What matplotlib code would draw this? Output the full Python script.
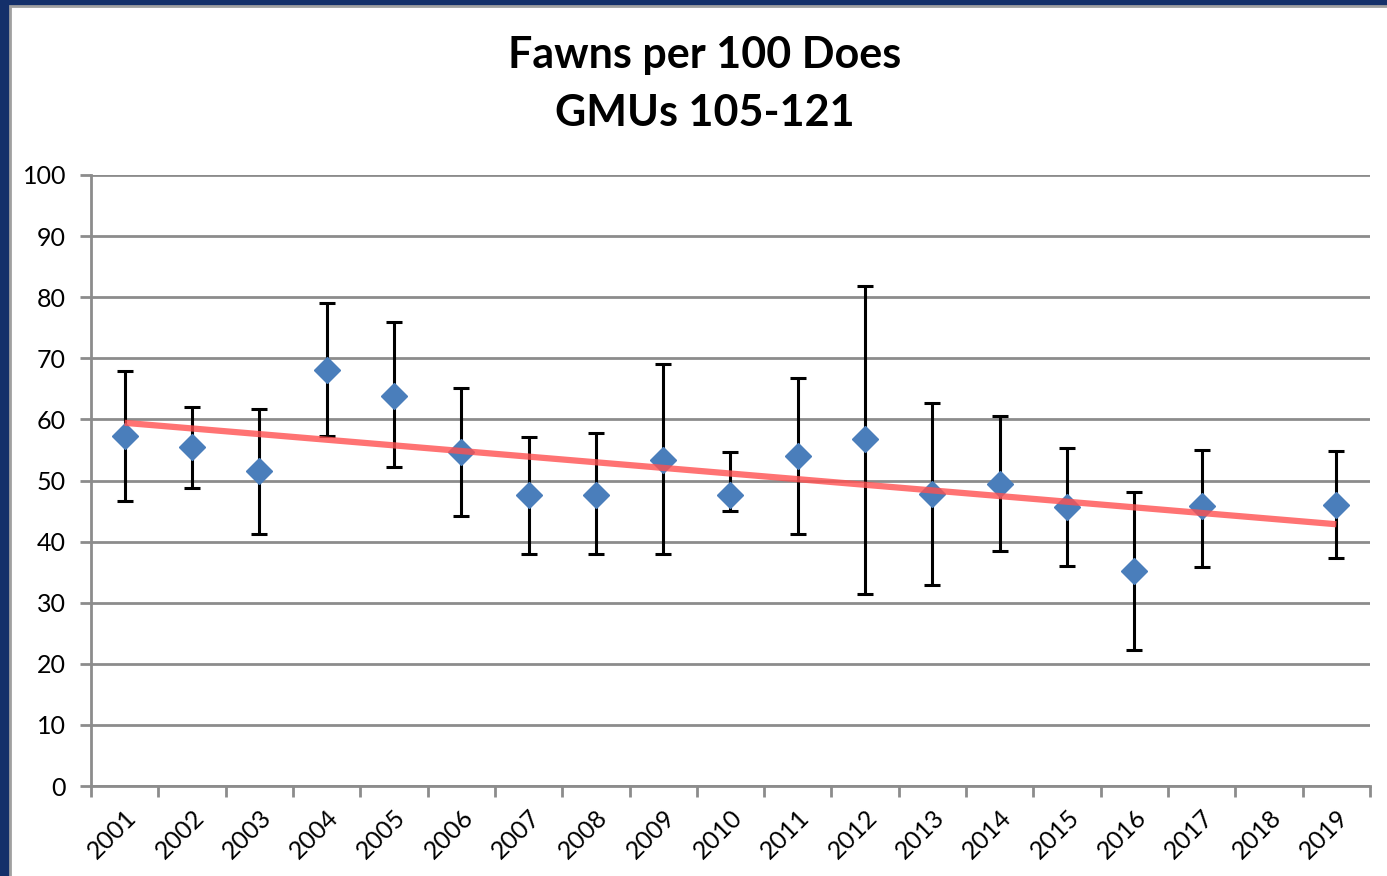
import matplotlib.pyplot as plt
import numpy as np
from matplotlib.patches import Rectangle

##############################################
# Data
##############################################
years = ['2001', '2002', '2003', '2004', '2005', '2006', '2007', '2008', '2009', '2010',
         '2011', '2012', '2013', '2014', '2015', '2016', '2017', '2018', '2019']
fawns = [57.3, 55.5, 51.6, 68.1, 63.8, 54.7, 47.6, 47.6, 53.4, 47.6,
         54.0, 56.8, 47.8, 49.4, 45.7, 35.2, 45.8, np.nan, 46.0]
upper = [67.9, 62.0, 61.7, 79.0, 75.9, 65.1, 57.1, 57.8, 69.1, 54.7,
         66.8, 81.8, 62.7, 60.6, 55.3, 48.1, 55.0, np.nan, 54.8]
lower = [46.6, 48.8, 41.2, 57.3, 52.2, 44.2, 38.0, 38.0, 38.0, 45.0,
         41.2, 31.4, 32.9, 38.5, 36.0, 22.3, 35.8, np.nan, 37.3]

fawns = np.array(fawns)
upper = np.array(upper)
lower = np.array(lower)
x = np.arange(len(years))

fig = plt.figure(figsize=(13.87, 8.76), dpi=100)
fig.patch.set_facecolor('#14306a')

# white chart area with thin grey border (cut off at right/bottom)
fig.patches.append(Rectangle((10 / 1387, -0.1), 1.2, 1.1 - 6 / 876, transform=fig.transFigure,
                             facecolor='white', edgecolor='#a0a0a0', linewidth=2, zorder=0))

ax = fig.add_axes([91 / 1387, 90 / 876, 1279 / 1387, 611 / 876])
ax.set_facecolor('none')
ax.set_zorder(2)

ax.errorbar(x, fawns, yerr=[fawns - lower, upper - fawns], fmt='none',
            ecolor='black', elinewidth=2.2, capsize=6, capthick=2.2, zorder=3)
ax.plot(x, fawns, linestyle='none', marker='D', markersize=13,
        color='#4a7ebb', markeredgecolor='#4a7ebb', zorder=4)

# linear trend line
ok = ~np.isnan(fawns)
slope, intercept = np.polyfit(x[ok], fawns[ok], 1)
ax.plot([x[0], x[-1]], [intercept + slope * x[0], intercept + slope * x[-1]],
        color='#ff5050', alpha=0.8, linewidth=4.5, solid_capstyle='butt', zorder=5)

ax.set_xlim(-0.5, len(years) - 0.5)
ax.set_ylim(0, 100)
ax.set_yticks(np.arange(0, 101, 10))
ax.yaxis.grid(True, color='#8c8c8c', linewidth=2)
ax.set_axisbelow(True)

ax.set_xticks(x)
ax.set_xticklabels(years, rotation=45, ha='right', va='top', rotation_mode='anchor',
                   fontsize=18, family='Lato')
ax.set_xticks(np.arange(-0.5, len(years), 1), minor=True)
ax.tick_params(axis='x', which='major', length=0, pad=14)
ax.tick_params(axis='x', which='minor', length=8, width=2, color='#8c8c8c')
ax.tick_params(axis='y', length=8, width=2, color='#8c8c8c', labelsize=18, pad=10)
for lab in ax.get_yticklabels():
    lab.set_family('Lato')

for s in ['top', 'right']:
    ax.spines[s].set_visible(False)
for s in ['left', 'bottom']:
    ax.spines[s].set_color('#8c8c8c')
    ax.spines[s].set_linewidth(2)

fig.text(705 / 1387, 1 - 84 / 876, 'Fawns per 100 Does\nGMUs 105-121', ha='center', va='center',
         fontsize=31, fontweight='bold', family='Lato', linespacing=1.55)

fig.savefig('out.png', dpi=100, facecolor=fig.get_facecolor())
